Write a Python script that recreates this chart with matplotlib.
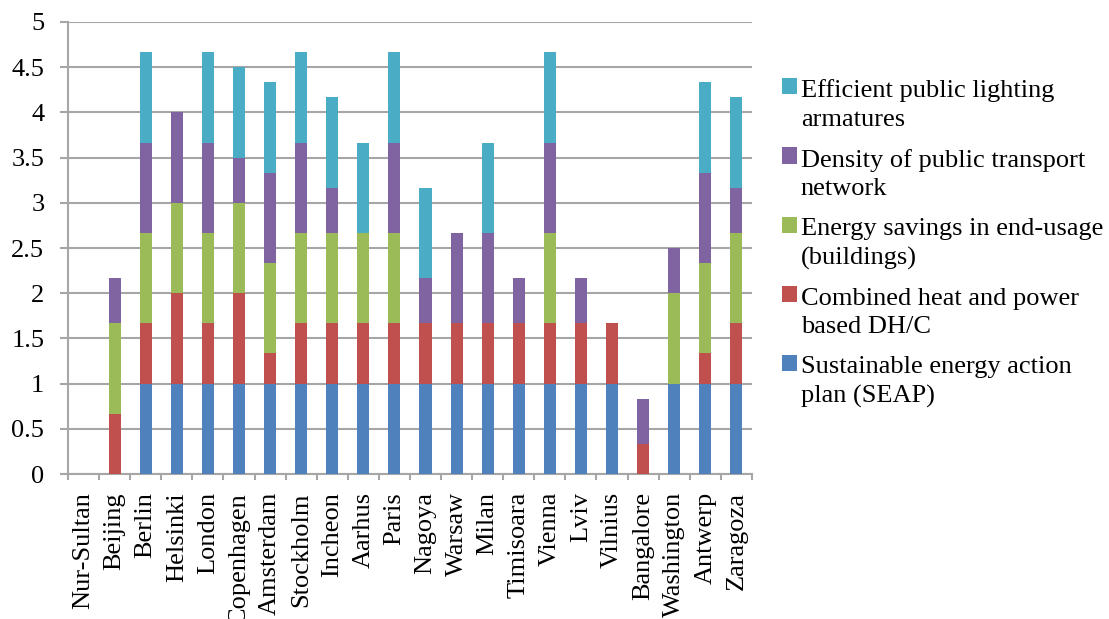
import numpy as np
import matplotlib
matplotlib.use("Agg")
import matplotlib.pyplot as plt
from matplotlib.patches import Rectangle
from matplotlib.container import BarContainer
from matplotlib.legend_handler import HandlerPatch, update_from_first_child

plt.rcParams["font.family"] = ["Liberation Serif", "DejaVu Serif"]

cities = ["Nur-Sultan", "Beijing", "Berlin", "Helsinki", "London", "Copenhagen",
          "Amsterdam", "Stockholm", "Incheon", "Aarhus", "Paris", "Nagoya",
          "Warsaw", "Milan", "Timisoara", "Vienna", "Lviv", "Vilnius",
          "Bangalore", "Washington", "Antwerp", "Zaragoza"]

seap = [0, 0, 1, 1, 1, 1, 1, 1, 1, 1, 1, 1, 1, 1, 1, 1, 1, 1, 0, 1, 1, 1]
chp = [0, 2/3, 2/3, 1, 2/3, 1, 1/3, 2/3, 2/3, 2/3, 2/3, 2/3, 2/3, 2/3, 2/3,
       2/3, 2/3, 2/3, 1/3, 0, 1/3, 2/3]
energy = [0, 1, 1, 1, 1, 1, 1, 1, 1, 1, 1, 0, 0, 0, 0, 1, 0, 0, 0, 1, 1, 1]
transport = [0, 0.5, 1, 1, 1, 0.5, 1, 1, 0.5, 0, 1, 0.5, 1, 1, 0.5, 1, 0.5,
             0, 0.5, 0.5, 1, 0.5]
lighting = [0, 0, 1, 0, 1, 1, 1, 1, 1, 1, 1, 1, 0, 1, 0, 1, 0, 0, 0, 0, 1, 1]

series = [
    ("Sustainable energy action\nplan (SEAP)", seap, "#4F81BD"),
    ("Combined heat and power\nbased DH/C", chp, "#C0504D"),
    ("Energy savings in end-usage\n(buildings)", energy, "#9BBB59"),
    ("Density of public transport\nnetwork", transport, "#8064A2"),
    ("Efficient public lighting\narmatures", lighting, "#4BACC6"),
]

fig = plt.figure(figsize=(11.09, 6.19), dpi=100)
ax = fig.add_axes([0.0613, 0.2342, 0.6167, 0.7303])

x = np.arange(len(cities))
bottom = np.zeros(len(cities))
containers = []
for label, vals, color in series:
    vals = np.array(vals, dtype=float)
    bc = ax.bar(x, vals, width=0.39, bottom=bottom, color=color, label=label,
                linewidth=0, zorder=3)
    containers.append(bc)
    bottom += vals

grid_col = "#A6A6A6"
ax.set_xlim(-0.5, len(cities) - 0.5)
ax.set_ylim(0, 5)
ax.set_yticks(np.arange(0, 5.01, 0.5))
ax.set_yticklabels(["0", "0.5", "1", "1.5", "2", "2.5", "3", "3.5", "4", "4.5", "5"])
ax.yaxis.grid(True, color=grid_col, linewidth=1.5, zorder=0)
ax.set_axisbelow(True)

ax.set_xticks(x)
ax.set_xticklabels(cities, rotation=90, va="top", ha="center")
ax.set_xticks(np.arange(-0.5, len(cities), 1), minor=True)

for s in ["top", "right"]:
    ax.spines[s].set_visible(False)
for s in ["left", "bottom"]:
    ax.spines[s].set_color(grid_col)
    ax.spines[s].set_linewidth(1.5)

ax.tick_params(axis="y", length=6, width=1.5, color=grid_col, pad=11, labelsize=19)
ax.tick_params(axis="x", which="major", length=0, pad=13, labelsize=19)
ax.tick_params(axis="x", which="minor", length=4, width=1.5, color=grid_col)


# legend square sits on the first line of each two-line label
def top_patch(legend, orig_handle, xdescent, ydescent, width, height, fontsize):
    return Rectangle((-xdescent, -ydescent + 0.68 * fontsize), width, height)


fs = 19
leg = fig.legend(
    handles=containers[::-1],
    loc="upper left",
    bbox_to_anchor=(0.705, 0.872),
    frameon=False,
    fontsize=fs,
    borderpad=0,
    borderaxespad=0,
    handlelength=0.57,
    handleheight=0.57,
    handletextpad=0.15,
    labelspacing=0.68,
    handler_map={BarContainer: HandlerPatch(patch_func=top_patch,
                                            update_func=update_from_first_child)},
)
for t in leg.get_texts():
    t.set_linespacing(1.38)

fig.savefig("out.png", dpi=100)
